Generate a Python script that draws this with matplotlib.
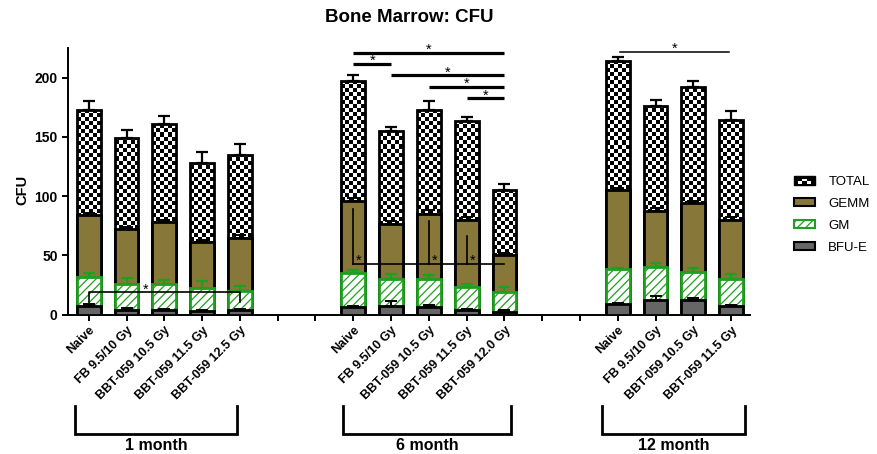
import numpy as np
import matplotlib
matplotlib.use("Agg")
import matplotlib.pyplot as plt
import matplotlib.transforms as mtransforms
from matplotlib.patches import Rectangle, Patch
from matplotlib.legend_handler import HandlerBase

plt.rcParams['font.family'] = ['Liberation Sans', 'DejaVu Sans']
plt.rcParams['hatch.linewidth'] = 0.9

# ---------------- data ----------------
groups = ['1 month', '6 month', '12 month']
labels1 = ['Naive', 'FB 9.5/10 Gy', 'BBT-059 10.5 Gy', 'BBT-059 11.5 Gy', 'BBT-059 12.5 Gy']
labels2 = ['Naive', 'FB 9.5/10 Gy', 'BBT-059 10.5 Gy', 'BBT-059 11.5 Gy', 'BBT-059 12.0 Gy']
labels3 = ['Naive', 'FB 9.5/10 Gy', 'BBT-059 10.5 Gy', 'BBT-059 11.5 Gy']

total = [173, 149, 161, 128, 135, 197, 155, 173, 163, 105, 214, 176, 192, 164]
total_err = [7, 7, 7, 9, 9, 5.5, 3.5, 7, 4, 5.5, 3, 5.5, 5, 7.5]
gemm = [84, 72, 78, 61, 65, 96, 76, 85, 80, 50, 105, 87, 94, 80]
gemm_err = [2, 2, 2, 2, 2, 2, 3, 3, 2, 2, 2, 3, 2, 2]
gm = [32, 26, 26, 22, 20, 35, 30, 30, 23, 19, 38, 40, 36, 30]
gm_err = [3, 5, 3, 6, 4, 2.5, 4, 3.5, 3, 4.5, 1, 3.5, 3, 4]
bfue = [7, 4, 4, 3, 4, 6.5, 7, 6.5, 4, 2.5, 8.5, 12, 12, 7]
bfue_err = [1.5, 1.5, 1, 1, 1, 1, 4, 1.5, 1, 1, 1, 4, 2, 1]

# significance lines: (from bar index, to bar index, height)
sig_thick = [(0, 4, 221), (0, 1, 211.6), (1, 4, 202), (2, 4, 192), (3, 4, 182.6)]   # 6 month
sig_thin_12 = (0, 3, 222)      # 12 month
sig_1m = (0, 4, 18.8, 10.6)    # 1 month bracket: from, to, height, drop end
sig_6m_low = 43                # 6 month lower bracket height
sig_6m_drops = [(0, 88.7), (2, 79), (3, 66.5)]   # bar index, top of vertical line

# ---------------- layout ----------------
pos1 = np.arange(0, 5)
pos2 = np.arange(7, 12)
pos3 = np.arange(14, 18)
pos = np.concatenate([pos1, pos2, pos3]).astype(float)
labels = labels1 + labels2 + labels3
W = 0.63

fig = plt.figure(figsize=(8.78, 4.54), dpi=100)
ax = fig.add_axes([68 / 878, 1 - 314.5 / 454, (750 - 68) / 878, (314.5 - 48) / 454])

GEMM_C = '#877739'
GM_C = '#1f9f1f'
BFU_C = '#666666'
EDGE_LW = 2.0

# TOTAL: white base, checker image clipped, then edge
base = ax.bar(pos, total, W, color='white', edgecolor='none', zorder=1)
cell_h = 3.4
for rect, x, h in zip(base.patches, pos, total):
    nrows = int(np.ceil(h / cell_h))
    arr = np.add.outer(np.arange(nrows), np.arange(6)) % 2
    im = ax.imshow(arr, cmap='gray', vmin=0, vmax=1, origin='lower',
                   extent=(x - W / 2, x + W / 2, 0, nrows * cell_h),
                   aspect='auto', interpolation='nearest', zorder=1.1)
    im.set_clip_path(rect)
ax.bar(pos, total, W, fill=False, edgecolor='black', linewidth=EDGE_LW, zorder=1.2)
ax.errorbar(pos, total, yerr=[np.zeros(len(total)), total_err], fmt='none',
            ecolor='black', elinewidth=1.6, capsize=4.5, capthick=1.6, zorder=1.3)

# GEMM
ax.bar(pos, gemm, W, color=GEMM_C, edgecolor='black', linewidth=EDGE_LW, zorder=2)
ax.errorbar(pos, gemm, yerr=[np.zeros(len(gemm)), gemm_err], fmt='none',
            ecolor='black', elinewidth=1.4, capsize=4, capthick=1.4, zorder=2.1)
# GM
ax.bar(pos, gm, W, color='white', edgecolor=GM_C, hatch='////', linewidth=EDGE_LW, zorder=3)
ax.errorbar(pos, gm, yerr=[np.zeros(len(gm)), gm_err], fmt='none',
            ecolor=GM_C, elinewidth=1.6, capsize=4.5, capthick=1.6, zorder=3.1)
# BFU-E
ax.bar(pos, bfue, W, color=BFU_C, edgecolor='black', linewidth=EDGE_LW, zorder=4)
ax.errorbar(pos, bfue, yerr=[np.zeros(len(bfue)), bfue_err], fmt='none',
            ecolor='black', elinewidth=1.4, capsize=4, capthick=1.4, zorder=4.1)

ax.set_xlim(-0.55, 17.5)
ax.set_ylim(0, 225)
ax.set_yticks([0, 50, 100, 150, 200])
for s in ['top', 'right']:
    ax.spines[s].set_visible(False)
for s in ['left', 'bottom']:
    ax.spines[s].set_linewidth(1.4)
ticks = np.arange(0, 18)
ax.set_xticks(ticks)
lab_map = dict(zip(pos.astype(int), labels))
ax.set_xticklabels([lab_map.get(t, '') for t in ticks], rotation=45, ha='right',
                   rotation_mode='anchor', fontsize=9, fontweight='bold')
ax.tick_params(axis='both', direction='out', length=4, width=1.4)
ax.tick_params(axis='x', pad=3)
for t in ax.get_yticklabels():
    t.set_fontweight('bold')
    t.set_fontsize(10)


def star(x, y):
    ax.text(x, y - 1.0, '*', ha='center', va='baseline', fontsize=10.5, zorder=6)


# significance marks
g2 = pos2
for a, b, h in sig_thick:
    ax.plot([g2[a], g2[b]], [h, h], color='black', lw=2.3, solid_capstyle='butt', zorder=5)
    star((g2[a] + g2[b]) / 2, h)

a, b, h = sig_thin_12
ax.plot([pos3[a] + 0.05, pos3[b] - 0.05], [h, h], color='black', lw=1.1, zorder=5)
star((pos3[a] + pos3[b]) / 2, h)

a, b, h, d = sig_1m
ax.plot([pos1[a], pos1[a], pos1[b], pos1[b]], [d, h, h, d], color='black', lw=1.2, zorder=5)
star(1.5, h)

ax.plot([g2[0], g2[-1]], [sig_6m_low, sig_6m_low], color='black', lw=1.2, zorder=5)
for i, top in sig_6m_drops:
    ax.plot([g2[i], g2[i]], [sig_6m_low, top], color='black', lw=1.2, zorder=5)
    star(g2[i] + 0.15, sig_6m_low)

# group brackets
tr = mtransforms.blended_transform_factory(ax.transData, fig.transFigure)
brackets = [(-0.37, 3.93), (6.74, 11.18), (13.58, 17.36)]
y_top = 1 - 406 / 454
y_bot = 1 - 434 / 454
for (x0, x1), name in zip(brackets, groups):
    ax.plot([x0, x0, x1, x1], [y_top, y_bot, y_bot, y_top], transform=tr, color='black',
            lw=2.0, clip_on=False, solid_joinstyle='miter')
    ax.text((x0 + x1) / 2, 1 - 445 / 454, name, transform=tr, ha='center', va='center',
            fontsize=11.5, fontweight='bold')

# title and ylabel
fig.text(409 / 878, 1 - 18 / 454, 'Bone Marrow: CFU', ha='center', va='center',
         fontsize=13.5, fontweight='bold')
fig.text(22 / 878, 1 - 190 / 454, 'CFU', ha='center', va='center', rotation=90,
         fontsize=10.5, fontweight='bold')


# legend
class CheckerHandler(HandlerBase):
    def create_artists(self, legend, orig_handle, xdescent, ydescent, width, height,
                       fontsize, trans):
        x0, y0 = -xdescent, -ydescent
        arts = [Rectangle((x0, y0), width, height, facecolor='black', edgecolor='black',
                          lw=1, transform=trans)]
        nx, ny = 5, 2
        cw, ch = width / nx, height / ny
        for i in range(nx):
            for j in range(ny):
                if (i + j) % 2 == 1 and 0 < i < nx - 1:
                    arts.append(Rectangle((x0 + i * cw, y0 + j * ch * 0.6 + ch * 0.2), cw, ch * 0.6,
                                          facecolor='white', edgecolor='none', transform=trans))
        return arts


h_total = Patch(facecolor='black', edgecolor='black', label='TOTAL')
h_gemm = Patch(facecolor=GEMM_C, edgecolor='black', linewidth=1.5, label='GEMM')
h_gm = Patch(facecolor='white', edgecolor=GM_C, hatch='////', linewidth=1.5, label='GM')
h_bfu = Patch(facecolor=BFU_C, edgecolor='black', linewidth=1.5, label='BFU-E')
leg = fig.legend(handles=[h_total, h_gemm, h_gm, h_bfu], labels=['TOTAL', 'GEMM', 'GM', 'BFU-E'],
                 handler_map={h_total: CheckerHandler()},
                 loc='upper left', bbox_to_anchor=(794 / 878, 1 - 176 / 454),
                 frameon=False, fontsize=9.5, handlelength=1.6, handleheight=0.6,
                 handletextpad=1.0, labelspacing=0.75, borderpad=0, borderaxespad=0)

fig.savefig('out.png', dpi=100)
